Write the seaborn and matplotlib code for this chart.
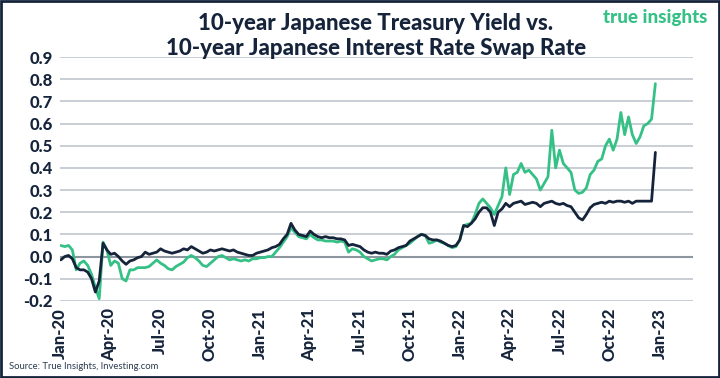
import seaborn as sns
import matplotlib.pyplot as plt
import matplotlib.dates as mdates
import pandas as pd
import numpy as np

# weekly readings (Fridays), Jan 3 2020 -> Dec 23 2022
dates = pd.date_range("2020-01-03", periods=156, freq="W-FRI")

jgb_10y = [
    -0.015, 0.0, 0.005, -0.01, -0.05, -0.06, -0.06, -0.07, -0.1, -0.16,
    -0.11, 0.06, 0.03, 0.01, 0.015, 0.0, -0.02, -0.035, -0.02, -0.015,
    -0.005, 0.0, 0.02, 0.01, 0.015, 0.02, 0.035, 0.025, 0.02, 0.015,
    0.02, 0.025, 0.035, 0.03, 0.045, 0.035, 0.025, 0.015, 0.02, 0.03,
    0.025, 0.03, 0.035, 0.03, 0.025, 0.03, 0.02, 0.015, 0.01, 0.005,
    0.005, 0.015, 0.02, 0.025, 0.03, 0.04, 0.045, 0.055, 0.08, 0.1,
    0.15, 0.12, 0.1, 0.095, 0.09, 0.115, 0.1, 0.09, 0.085, 0.09,
    0.085, 0.085, 0.08, 0.08, 0.075, 0.05, 0.055, 0.05, 0.045, 0.03,
    0.02, 0.015, 0.02, 0.015, 0.015, 0.01, 0.025, 0.03, 0.04, 0.045,
    0.05, 0.07, 0.08, 0.09, 0.1, 0.095, 0.08, 0.075, 0.075, 0.07,
    0.06, 0.05, 0.045, 0.05, 0.075, 0.14, 0.135, 0.15, 0.17, 0.2,
    0.22, 0.22, 0.2, 0.14, 0.2, 0.215, 0.24, 0.225, 0.24, 0.245,
    0.25, 0.235, 0.24, 0.245, 0.24, 0.225, 0.24, 0.245, 0.25, 0.24,
    0.235, 0.24, 0.23, 0.225, 0.2, 0.175, 0.165, 0.19, 0.22, 0.235,
    0.24, 0.245, 0.24, 0.25, 0.245, 0.25, 0.25, 0.245, 0.25, 0.24,
    0.25, 0.25, 0.25, 0.25, 0.25, 0.47,
]

irs_10y = [
    0.05, 0.045, 0.05, 0.03, -0.06, -0.03, -0.02, -0.04, -0.08, -0.14,
    -0.19, 0.065, 0.03, -0.04, -0.02, -0.03, -0.1, -0.11, -0.06, -0.06,
    -0.05, -0.05, -0.05, -0.045, -0.03, -0.015, -0.03, -0.04, -0.055, -0.06,
    -0.045, -0.035, -0.025, -0.005, 0.005, -0.005, -0.02, -0.04, -0.045, -0.03,
    -0.015, 0.0, 0.005, -0.005, -0.015, -0.01, -0.015, -0.02, -0.015, -0.02,
    -0.01, -0.01, -0.005, -0.005, 0.0, 0.0, 0.02, 0.04, 0.065, 0.09,
    0.13, 0.11, 0.09, 0.085, 0.08, 0.1, 0.085, 0.075, 0.075, 0.07,
    0.07, 0.07, 0.065, 0.07, 0.065, 0.02, 0.035, 0.03, 0.02, 0.0,
    -0.01, -0.02, -0.015, -0.01, -0.01, -0.015, 0.0, 0.01, 0.03, 0.04,
    0.05, 0.06, 0.075, 0.09, 0.1, 0.095, 0.06, 0.065, 0.075, 0.065,
    0.06, 0.05, 0.04, 0.045, 0.075, 0.14, 0.145, 0.15, 0.19, 0.24,
    0.26, 0.24, 0.22, 0.19, 0.23, 0.27, 0.4, 0.28, 0.37, 0.38,
    0.42, 0.38, 0.39, 0.37, 0.35, 0.3, 0.33, 0.36, 0.57, 0.4,
    0.48, 0.42, 0.4, 0.38, 0.3, 0.285, 0.29, 0.31, 0.37, 0.39,
    0.43, 0.44, 0.5, 0.53, 0.48, 0.53, 0.65, 0.55, 0.63, 0.55,
    0.51, 0.54, 0.59, 0.6, 0.62, 0.78,
]

navy = "#16243b"
green = "#35c186"

df = pd.DataFrame({"date": dates, "JGB": jgb_10y, "IRS": irs_10y})

sns.set_style("white")
plt.rcParams["font.family"] = ["Lato", "DejaVu Sans"]

fig = plt.figure(figsize=(7.2, 3.78), dpi=100)
ax = fig.add_axes([0.083, 0.204, 0.879, 0.645])

sns.lineplot(data=df, x="date", y="IRS", color=green, linewidth=2, ax=ax)
sns.lineplot(data=df, x="date", y="JGB", color=navy, linewidth=2, ax=ax)

ax.set_ylim(-0.2, 0.9)
ax.set_xlim(pd.Timestamp("2020-01-01"), pd.Timestamp("2023-03-01"))
ax.set_yticks(np.arange(-0.2, 0.91, 0.1))
ax.yaxis.set_major_formatter(plt.FuncFormatter(lambda v, p: f"{v:.1f}".replace("-0.0", "0.0")))
ax.grid(axis="y", color="#c5cad1", linewidth=1.3)
ax.axhline(0, color="#8d959e", linewidth=1.5, zorder=1)
ax.set_axisbelow(True)

ax.xaxis.set_major_locator(mdates.MonthLocator(bymonth=[1, 4, 7, 10]))
ax.xaxis.set_major_formatter(mdates.DateFormatter("%b-%y"))
for s in ax.spines.values():
    s.set_visible(False)
ax.tick_params(axis="both", length=0, colors=navy, labelsize=12, pad=5)
plt.setp(ax.get_xticklabels(), rotation=90, fontweight="black")
plt.setp(ax.get_yticklabels(), fontweight="black")
ax.set_xlabel("")
ax.set_ylabel("")

fig.text(0.522, 0.905, "10-year Japanese Treasury Yield vs.\n10-year Japanese Interest Rate Swap Rate",
         ha="center", va="center", fontsize=16, fontweight="black", color=navy, linespacing=1.25)
fig.text(0.982, 0.955, "true insights", ha="right", va="center", fontsize=13.5,
         fontweight="black", color=green)
fig.text(0.012, 0.03, "Source: True Insights, Investing.com", ha="left", va="center",
         fontsize=6.8, color="#2c3b50")

fig.patches.append(plt.Rectangle((0.002, 0.003), 0.996, 0.994, transform=fig.transFigure,
                                 fill=False, edgecolor=navy, linewidth=2))

fig.savefig("out.png", dpi=100)
